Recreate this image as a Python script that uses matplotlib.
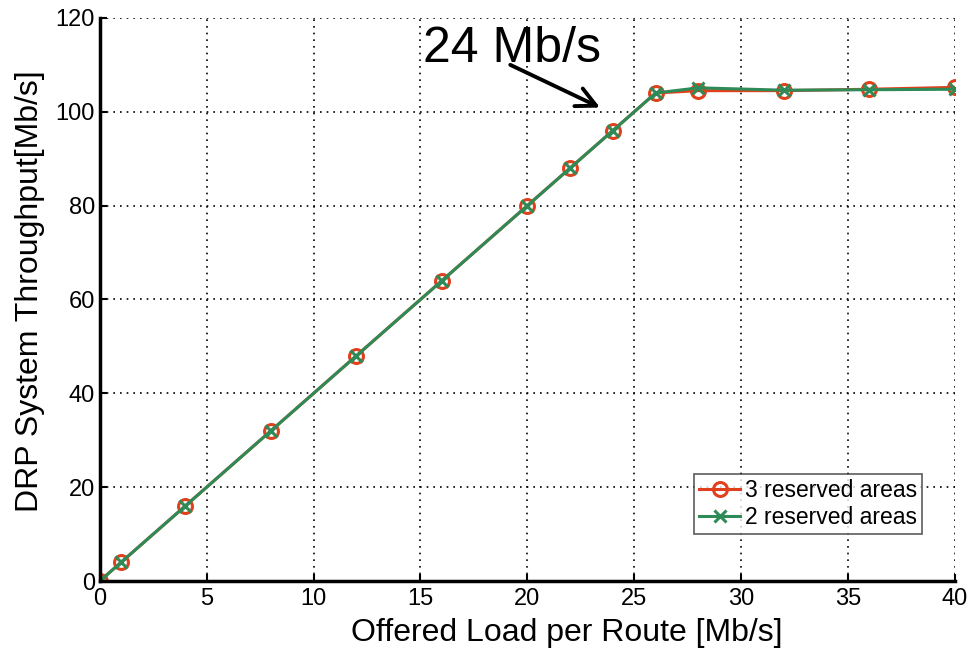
import matplotlib
matplotlib.use("Agg")
import matplotlib.pyplot as plt

plt.rcParams['font.family'] = ['Liberation Sans', 'DejaVu Sans']

load = [0, 1, 4, 8, 12, 16, 20, 22, 24, 26, 28, 32, 36, 40]
thr_3areas = [0, 4, 16, 32, 48, 64, 80, 88, 96, 104.0, 104.5, 104.5, 104.8, 105.2]
thr_2areas = [0, 4, 16, 32, 48, 64, 80, 88, 96, 104.0, 105.1, 104.6, 104.7, 104.8]

fig = plt.figure(figsize=(9.69, 6.54), dpi=100)
ax = fig.add_axes([0.103, 0.1116, 0.8825, 0.861])

red = '#e0401c'
green = '#2e8b57'

ax.plot(load, thr_3areas, color=red, lw=2.2, marker='o', ms=10,
        mfc='none', mec=red, mew=2.2, label='3 reserved areas')
ax.plot(load, thr_2areas, color=green, lw=2.2, marker='x', ms=8,
        mec=green, mew=2.2, label='2 reserved areas')

ax.set_xlim(0, 40)
ax.set_ylim(0, 120)
ax.set_xticks(range(0, 41, 5))
ax.set_yticks(range(0, 121, 20))
ax.grid(True, color='black', linestyle=(0, (1, 3)), linewidth=1.2)
ax.tick_params(direction='in', labelsize=17, length=5, width=1.5)
ax.tick_params(axis='x', pad=5)
for s in ['top', 'right']:
    ax.spines[s].set_visible(False)
for s in ['left', 'bottom']:
    ax.spines[s].set_linewidth(2.5)

ax.set_xlabel('Offered Load per Route [Mb/s]', fontsize=23)
ax.set_ylabel('DRP System Throughput[Mb/s]', fontsize=23)
ax.xaxis.set_label_coords(0.546, -0.065)
ax.yaxis.set_label_coords(-0.064, 0.515)

ax.text(19.3, 110.6, '24 Mb/s', fontsize=36, ha='center', va='baseline')
ax.annotate('', xy=(23.4, 100.9), xytext=(19.2, 110),
            arrowprops=dict(arrowstyle='->', color='black', lw=2.8,
                            mutation_scale=35, shrinkA=0, shrinkB=0))

leg = ax.legend(loc='lower right', bbox_to_anchor=(0.961, 0.084), fontsize=16.5,
                frameon=True, fancybox=False, edgecolor='#333333',
                handlelength=1.8, handletextpad=0.2, borderpad=0.2,
                labelspacing=0.2, borderaxespad=0)
leg.get_frame().set_linewidth(1.2)

fig.savefig('out.png', dpi=100)
